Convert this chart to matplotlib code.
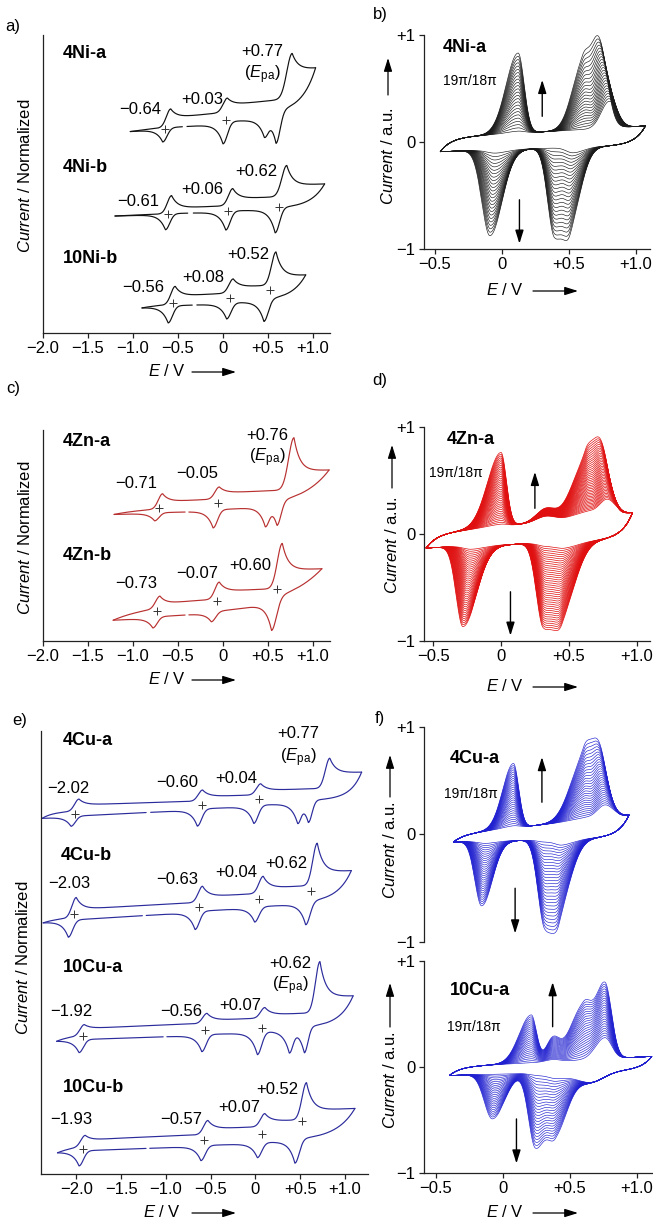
import numpy as np
import matplotlib
matplotlib.use("Agg")
import matplotlib.pyplot as plt
from matplotlib.patches import FancyArrowPatch

plt.rcParams['font.family'] = ['Liberation Sans', 'DejaVu Sans']
plt.rcParams['mathtext.fontset'] = 'custom'
plt.rcParams['mathtext.rm'] = 'Liberation Sans'
plt.rcParams['mathtext.it'] = 'Liberation Sans:italic'
plt.rcParams['mathtext.bf'] = 'Liberation Sans:bold'

# ---------------------------------------------------------------- data
# Single CVs: potential window, gap in return sweep, linear baselines (upper/lower),
# anodic peaks (E, height, tail fraction[, width]), cathodic peaks (E, depth, tail[, width]),
# E1/2 values marked with "+", and the printed numbers.
NI4A_RANGE = (-1.03, 1.03); NI4A_GAP = (-0.45, -0.40)
NI4A_BASE_UP = (202, 221); NI4A_BASE_LO = (210, 222)
NI4A_ANODIC = [(-0.58, 18, 0.5), (0.05, 14, 0.5), (0.77, 45, 0.62, 0.06)]
NI4A_CATHODIC = [(-0.67, 14, 0.1), (0.0, 22, 0.1), (0.46, 17, 0.1, 0.04), (0.59, 32, 0.1, 0.045)]
NI4A_E12 = [-0.64, 0.03]

NI4B_RANGE = (-1.2, 1.13); NI4B_GAP = (-0.39, -0.33)
NI4B_BASE_UP = (117, 126); NI4B_BASE_LO = (120, 126)
NI4B_ANODIC = [(-0.57, 18, 0.3), (0.11, 17, 0.4), (0.71, 31, 0.35, 0.055)]
NI4B_CATHODIC = [(-0.64, 16, 0.05), (0.03, 19, 0.05), (0.58, 25, 0.05)]
NI4B_E12 = [-0.61, 0.06, 0.62]

NI10B_RANGE = (-0.9, 0.92); NI10B_GAP = (-0.34, -0.29)
NI10B_BASE_UP = (27, 36); NI10B_BASE_LO = (28, 34)
NI10B_ANODIC = [(-0.53, 18, 0.45), (0.115, 14, 0.4), (0.59, 33, 0.25, 0.05)]
NI10B_CATHODIC = [(-0.61, 17, 0.05), (0.04, 16, 0.05), (0.455, 22, 0.05)]
NI10B_E12 = [-0.56, 0.08, 0.52]

ZN4A_RANGE = (-1.21, 1.18); ZN4A_GAP = (-0.42, -0.38)
ZN4A_BASE_UP = (131, 140); ZN4A_BASE_LO = (130, 136)
ZN4A_ANODIC = [(-0.67, 15, 0.45), (-0.04, 12, 0.5), (0.79, 52, 0.35, 0.06)]
ZN4A_CATHODIC = [(-0.76, 8, 0.05), (-0.11, 18, 0.05), (0.47, 19, 0.05, 0.04), (0.60, 24, 0.05, 0.045)]
ZN4A_E12 = [-0.71, -0.05]

ZN4B_RANGE = (-1.22, 1.10); ZN4B_GAP = (-0.42, -0.38)
ZN4B_BASE_UP = (35, 43); ZN4B_BASE_LO = (26, 36)
ZN4B_ANODIC = [(-0.70, 12, 0.3), (-0.04, 17, 0.45), (0.66, 45, 0.4, 0.055)]
ZN4B_CATHODIC = [(-0.78, 11, 0.1), (-0.13, 10, 0.1), (0.54, 32, 0.1, 0.055)]
ZN4B_E12 = [-0.73, -0.07, 0.60]

CU4A_RANGE = (-2.38, 1.185); CU4A_GAP = (-1.22, -1.17)
CU4A_BASE_UP = (362, 372); CU4A_BASE_LO = (360, 376)
CU4A_ANODIC = [(-1.97, 12, 0.5), (-0.59, 11, 0.4), (0.06, 11, 0.4), (0.83, 30, 0.5, 0.05)]
CU4A_CATHODIC = [(-2.06, 10, 0.05), (-0.65, 17, 0.05), (-0.02, 18, 0.05), (0.47, 18, 0.05, 0.035), (0.59, 22, 0.05, 0.04)]
CU4A_E12 = [-2.02, -0.60, 0.04]

CU4B_RANGE = (-2.37, 1.07); CU4B_GAP = (-1.26, -1.22)
CU4B_BASE_UP = (255, 272); CU4B_BASE_LO = (255, 274)
CU4B_ANODIC = [(-2.0, 20, 0.4), (-0.59, 16, 0.35), (0.087, 17, 0.3), (0.69, 42, 0.3, 0.05)]
CU4B_CATHODIC = [(-2.09, 17, 0.05), (-0.675, 18, 0.05), (-0.01, 15, 0.05), (0.56, 23, 0.05)]
CU4B_E12 = [-2.03, -0.63, 0.04, 0.62]

CU10A_RANGE = (-2.22, 1.09); CU10A_GAP = (-1.03, -0.99)
CU10A_BASE_UP = (138, 150); CU10A_BASE_LO = (138, 148)
CU10A_ANODIC = [(-1.91, 11, 0.6), (-0.54, 10, 0.3), (0.106, 10.5, 0.3), (0.72, 51, 0.3, 0.05)]
CU10A_CATHODIC = [(-1.97, 13, 0.05), (-0.60, 17, 0.05), (0.02, 23, 0.05), (0.377, 22, 0.05, 0.04), (0.545, 26, 0.05, 0.04)]
CU10A_E12 = [-1.92, -0.56, 0.07]

CU10B_RANGE = (-2.21, 1.11); CU10B_GAP = (-1.22, -1.18)
CU10B_BASE_UP = (28, 40); CU10B_BASE_LO = (25, 36)
CU10B_ANODIC = [(-1.90, 11, 0.5), (-0.53, 14, 0.4), (0.106, 13, 0.4), (0.57, 37, 0.25, 0.05)]
CU10B_CATHODIC = [(-1.97, 15, 0.05), (-0.61, 15, 0.05), (0.02, 15, 0.05), (0.44, 24, 0.05)]
CU10B_E12 = [-1.93, -0.57, 0.07, 0.52]

# Multi-scan CVs: peaks (E_first, E_last, h_first, h_last, sigma_neg, sigma_pos)
B_RANGE = (-0.46, 1.07); B_NSCAN = 25
B_BASE_UP = (0.04, 0.15); B_BASE_LO = (-0.09, -0.03)
B_ANODIC = [(0.12, 0.12, 0.02, 0.75, 0.09, 0.045), (0.62, 0.60, 0.0, 0.58, 0.08, 0.05),
            (0.80, 0.72, 0.25, 0.83, 0.06, 0.06)]
B_CATHODIC = [(-0.05, -0.09, 0.03, 0.80, 0.06, 0.09), (0.39, 0.39, 0.0, 0.80, 0.05, 0.07),
              (0.53, 0.51, 0.05, 0.62, 0.05, 0.08)]

D_RANGE = (-0.55, 0.97); D_NSCAN = 40
D_BASE_UP = (0.0, 0.2); D_BASE_LO = (-0.13, -0.05)
D_ANODIC = [(0.0, 0.0, 0.02, 0.69, 0.10, 0.04), (0.33, 0.33, 0.05, 0.12, 0.07, 0.07),
            (0.63, 0.62, 0.05, 0.50, 0.10, 0.05), (0.78, 0.73, 0.15, 0.68, 0.06, 0.06)]
D_CATHODIC = [(-0.22, -0.28, 0.03, 0.75, 0.05, 0.10), (0.33, 0.31, 0.03, 0.75, 0.05, 0.08),
              (0.47, 0.45, 0.05, 0.60, 0.06, 0.10)]

FU_RANGE = (-0.37, 0.94); FU_NSCAN = 30
FU_BASE_UP = (0.0, 0.18); FU_BASE_LO = (-0.07, -0.03)
FU_ANODIC = [(0.077, 0.077, 0.02, 0.60, 0.08, 0.04), (0.60, 0.60, 0.02, 0.55, 0.10, 0.05),
             (0.76, 0.71, 0.12, 0.68, 0.06, 0.06)]
FU_CATHODIC = [(-0.13, -0.16, 0.02, 0.60, 0.05, 0.08), (0.31, 0.31, 0.02, 0.78, 0.05, 0.07),
               (0.44, 0.42, 0.05, 0.55, 0.05, 0.09)]

FL_RANGE = (-0.40, 1.11); FL_NSCAN = 25
FL_BASE_UP = (0.0, 0.10); FL_BASE_LO = (-0.08, -0.03)
FL_ANODIC = [(0.21, 0.21, 0.0, 0.45, 0.09, 0.04), (0.37, 0.37, 0.02, 0.20, 0.05, 0.05),
             (0.60, 0.60, 0.0, 0.50, 0.10, 0.06), (0.76, 0.76, 0.20, 0.71, 0.07, 0.05)]
FL_CATHODIC = [(-0.05, -0.08, 0.0, 0.42, 0.06, 0.09), (0.26, 0.24, 0.02, 0.68, 0.05, 0.07),
               (0.40, 0.39, 0.05, 0.55, 0.06, 0.09), (0.65, 0.65, 0.10, 0.10, 0.10, 0.10)]

X_TICKS_WIDE = [-2.0, -1.5, -1.0, -0.5, 0.0, 0.5, 1.0]
X_LABELS_WIDE = ['\u22122.0', '\u22121.5', '\u22121.0', '\u22120.5', '0', '+0.5', '+1.0']
X_TICKS_NARROW = [-0.5, 0.0, 0.5, 1.0]
X_LABELS_NARROW = ['\u22120.5', '0', '+0.5', '+1.0']
Y_TICKS = [-1, 0, 1]
Y_LABELS = ['\u22121', '0', '+1']

# ---------------------------------------------------------------- helpers
W, H = 653, 1220
fig = plt.figure(figsize=(W / 100, H / 100), dpi=100)
FS = 12
BFS = 13
PIFS = 10
SPC = '#222222'


def add_ax(l, t, r, b):
    ax = fig.add_axes([l / W, 1 - b / H, (r - l) / W, (b - t) / H])
    for s in ['top', 'right']:
        ax.spines[s].set_visible(False)
    for s in ['left', 'bottom']:
        ax.spines[s].set_color(SPC)
        ax.spines[s].set_linewidth(0.9)
    ax.tick_params(direction='out', length=3.5, width=0.9, labelsize=FS, pad=2.5, colors=SPC,
                   labelcolor='k')
    ax.patch.set_alpha(0)
    return ax


def lin(E, rng, base):
    return base[0] + (base[1] - base[0]) * (E - rng[0]) / (rng[1] - rng[0])


def single_cv(rng, base_up, base_lo, anodic, cathodic, dt=0.15, n=1200, decay=0.065):
    E = np.linspace(rng[0], rng[1], n)
    U0 = lin(E, rng, base_up)
    for p in anodic:
        Ep, h, tail = p[:3]
        w = p[3] if len(p) > 3 else 0.048
        x = E - Ep
        U0 = U0 + h * np.where(x < 0, np.exp(-0.5 * (x / w) ** 2),
                               tail + (1 - tail) * np.exp(-np.clip(x, 0, None) / decay))
    L0 = lin(E, rng, base_lo)
    for p in cathodic:
        Ep, h, tail = p[:3]
        w = p[3] if len(p) > 3 else 0.048
        x = E - Ep
        L0 = L0 - h * np.where(x > 0, np.exp(-0.5 * (x / w) ** 2),
                               tail + (1 - tail) * np.exp(np.clip(x, None, 0) / decay))
    L = L0 + (U0[-1] - L0[-1]) * np.exp(-(E[-1] - E) / dt)
    U = U0 + (L[0] - U0[0]) * np.exp(-(E - E[0]) / dt)
    return E, U, L


def draw_single(ax, rng, gap, base_up, base_lo, anodic, cathodic, e12, color, dt=0.15):
    E, U, L = single_cv(rng, base_up, base_lo, anodic, cathodic, dt)
    Lm = L.copy()
    Lm[(E > gap[0]) & (E < gap[1])] = np.nan
    ax.plot(E, U, color=color, lw=0.85, solid_capstyle='round')
    ax.plot(E, Lm, color=color, lw=0.85, solid_capstyle='round')
    for e in e12:
        y = np.interp(e, E, (U + L) / 2)
        ax.plot([e], [y], marker='+', ms=5.5, mew=0.7, color='#333333', ls='none')


def asym(E, Ep, sn, sp):
    x = E - Ep
    return np.where(x < 0, np.exp(-0.5 * (x / sn) ** 2), np.exp(-0.5 * (x / sp) ** 2))


def draw_multi(ax, rng, nscan, base_up, base_lo, anodic, cathodic, color, lw=0.45, dt=0.08):
    E = np.linspace(rng[0], rng[1], 700)
    for f in np.linspace(0, 1, nscan):
        U0 = lin(E, rng, base_up)
        for (e0, e1, h0, h1, sn, sp) in anodic:
            U0 = U0 + (h0 + (h1 - h0) * f) * asym(E, e0 + (e1 - e0) * f, sn, sp)
        L0 = lin(E, rng, base_lo)
        for (e0, e1, h0, h1, sn, sp) in cathodic:
            L0 = L0 - (h0 + (h1 - h0) * f) * asym(E, e0 + (e1 - e0) * f, sn, sp)
        L = L0 + (U0[-1] - L0[-1]) * np.exp(-(E[-1] - E) / dt)
        U = U0 + (L[0] - U0[0]) * np.exp(-(E - E[0]) / dt)
        ax.plot(np.concatenate([E, E[::-1]]), np.concatenate([U, L[::-1]]),
                color=color, lw=lw)


def fig_text(px, py, s, **kw):
    fig.text(px / W, 1 - py / H, s, **kw)


def fig_arrow(x0, y0, x1, y1):
    fig.add_artist(FancyArrowPatch((x0 / W, 1 - y0 / H), (x1 / W, 1 - y1 / H),
                                   transform=fig.transFigure,
                                   arrowstyle='-|>,head_length=0.8,head_width=0.25',
                                   mutation_scale=10, lw=0.9, color='k',
                                   shrinkA=0, shrinkB=0))


def x_label(cx, py, ax0, ax1):
    fig_text(cx, py, '$E$ / V', ha='center', va='center', fontsize=FS)
    fig_arrow(ax0, py + 1, ax1, py + 1)


def y_label(px, cy, text, arrow=None):
    fig_text(px, cy, text, ha='center', va='center', rotation=90, fontsize=FS)
    if arrow is not None:
        fig_arrow(px, arrow[0], px, arrow[1])


def ax_arrow(ax, E, y0, y1):
    ax.annotate('', xy=(E, y1), xytext=(E, y0),
                arrowprops=dict(arrowstyle='-|>,head_length=0.8,head_width=0.25',
                                mutation_scale=10, lw=1.0, color='k',
                                shrinkA=0, shrinkB=0))


EPA = '($E_{\\mathrm{pa}}$)'
kw = dict(fontsize=FS, ha='center', va='center')
bkw = dict(fontsize=BFS, ha='left', va='center', fontweight='bold')

# ---------------------------------------------------------------- panel a
ax = add_ax(43, 35, 330, 333)
ax.set_xlim(-2.0, 1.19); ax.set_ylim(0, 298)
ax.set_yticks([])
ax.set_xticks(X_TICKS_WIDE, X_LABELS_WIDE)
black = '#111111'
draw_single(ax, NI4A_RANGE, NI4A_GAP, NI4A_BASE_UP, NI4A_BASE_LO, NI4A_ANODIC, NI4A_CATHODIC, NI4A_E12, black)
draw_single(ax, NI4B_RANGE, NI4B_GAP, NI4B_BASE_UP, NI4B_BASE_LO, NI4B_ANODIC, NI4B_CATHODIC, NI4B_E12, black)
draw_single(ax, NI10B_RANGE, NI10B_GAP, NI10B_BASE_UP, NI10B_BASE_LO, NI10B_ANODIC, NI10B_CATHODIC, NI10B_E12, black)
ax.text(-1.78, 280, '4Ni-a', **bkw)
ax.text(-0.92, 223, '\u22120.64', **kw)
ax.text(-0.23, 234, '+0.03', **kw)
ax.text(0.44, 281, '+0.77', **kw)
ax.text(0.44, 258, EPA, **kw)
ax.text(-1.78, 166, '4Ni-b', **bkw)
ax.text(-0.94, 131, '\u22120.61', **kw)
ax.text(-0.23, 144, '+0.06', **kw)
ax.text(0.37, 162, '+0.62', **kw)
ax.text(-1.78, 74, '10Ni-b', **bkw)
ax.text(-0.89, 45, '\u22120.56', **kw)
ax.text(-0.22, 55, '+0.08', **kw)
ax.text(0.28, 78, '+0.52', **kw)
fig_text(13, 26, 'a)', ha='center', va='center', fontsize=FS)
y_label(25, 176, '$Current$ / Normalized')
x_label(167, 371, 192, 236)

# ---------------------------------------------------------------- panel b
ax = add_ax(424, 35, 650, 249)
ax.set_xlim(-0.582, 1.104); ax.set_ylim(-1, 1)
ax.set_xticks(X_TICKS_NARROW, X_LABELS_NARROW)
ax.set_yticks(Y_TICKS, Y_LABELS)
draw_multi(ax, B_RANGE, B_NSCAN, B_BASE_UP, B_BASE_LO, B_ANODIC, B_CATHODIC, '#1a1a1a')
ax.text(-0.44, 0.88, '4Ni-a', fontsize=BFS, fontweight='bold', ha='left', va='center')
ax.text(-0.44, 0.57, '19\u03c0/18\u03c0', fontsize=PIFS, ha='left', va='center')
ax_arrow(ax, 0.30, 0.24, 0.58)
ax_arrow(ax, 0.13, -0.54, -0.95)
fig_text(380, 15, 'b)', ha='center', va='center', fontsize=FS)
y_label(388, 156, '$Current$ / a.u.', arrow=(95, 58))
x_label(505, 290, 533, 578)

# ---------------------------------------------------------------- panel c
ax = add_ax(43, 430, 330, 641)
ax.set_xlim(-2.0, 1.19); ax.set_ylim(0, 211)
ax.set_yticks([])
ax.set_xticks(X_TICKS_WIDE, X_LABELS_WIDE)
red = '#b83030'
draw_single(ax, ZN4A_RANGE, ZN4A_GAP, ZN4A_BASE_UP, ZN4A_BASE_LO, ZN4A_ANODIC, ZN4A_CATHODIC, ZN4A_E12, red, dt=0.3)
draw_single(ax, ZN4B_RANGE, ZN4B_GAP, ZN4B_BASE_UP, ZN4B_BASE_LO, ZN4B_ANODIC, ZN4B_CATHODIC, ZN4B_E12, red, dt=0.4)
ax.text(-1.78, 200, '4Zn-a', **bkw)
ax.text(-0.96, 158, '\u22120.71', **kw)
ax.text(-0.29, 168, '\u22120.05', **kw)
ax.text(0.49, 206, '+0.76', **kw)
ax.text(0.49, 183, EPA, **kw)
ax.text(-1.78, 85, '4Zn-b', **bkw)
ax.text(-0.96, 58, '\u22120.73', **kw)
ax.text(-0.29, 67, '\u22120.07', **kw)
ax.text(0.30, 76, '+0.60', **kw)
fig_text(13, 388, 'c)', ha='center', va='center', fontsize=FS)
y_label(25, 538, '$Current$ / Normalized')
x_label(167, 679, 192, 236)

# ---------------------------------------------------------------- panel d
ax = add_ax(424, 427, 650, 641)
ax.set_xlim(-0.567, 1.098); ax.set_ylim(-1, 1)
ax.set_xticks(X_TICKS_NARROW, X_LABELS_NARROW)
ax.set_yticks(Y_TICKS, Y_LABELS)
draw_multi(ax, D_RANGE, D_NSCAN, D_BASE_UP, D_BASE_LO, D_ANODIC, D_CATHODIC, '#e01010', lw=0.5)
ax.text(-0.40, 0.88, '4Zn-a', fontsize=BFS, fontweight='bold', ha='left', va='center')
ax.text(-0.53, 0.57, '19\u03c0/18\u03c0', fontsize=PIFS, ha='left', va='center')
ax_arrow(ax, 0.25, 0.24, 0.58)
ax_arrow(ax, 0.07, -0.54, -0.95)
fig_text(380, 380, 'd)', ha='center', va='center', fontsize=FS)
y_label(392, 545, '$Current$ / a.u.', arrow=(488, 445))
x_label(505, 686, 533, 578)

# ---------------------------------------------------------------- panel e
ax = add_ax(41, 731, 368, 1174)
ax.set_xlim(-2.394, 1.256); ax.set_ylim(0, 443)
ax.set_yticks([])
ax.set_xticks(X_TICKS_WIDE, X_LABELS_WIDE)
blue = '#2b2b9c'
draw_single(ax, CU4A_RANGE, CU4A_GAP, CU4A_BASE_UP, CU4A_BASE_LO, CU4A_ANODIC, CU4A_CATHODIC, CU4A_E12, blue, dt=0.12)
draw_single(ax, CU4B_RANGE, CU4B_GAP, CU4B_BASE_UP, CU4B_BASE_LO, CU4B_ANODIC, CU4B_CATHODIC, CU4B_E12, blue)
draw_single(ax, CU10A_RANGE, CU10A_GAP, CU10A_BASE_UP, CU10A_BASE_LO, CU10A_ANODIC, CU10A_CATHODIC, CU10A_E12, blue)
draw_single(ax, CU10B_RANGE, CU10B_GAP, CU10B_BASE_UP, CU10B_BASE_LO, CU10B_ANODIC, CU10B_CATHODIC, CU10B_E12, blue, dt=0.2)
ax.text(-2.152, 434, '4Cu-a', **bkw)
ax.text(-2.09, 386, '\u22122.02', **kw)
ax.text(-0.877, 392, '\u22120.60', **kw)
ax.text(-0.218, 396, '+0.04', **kw)
ax.text(0.474, 441, '+0.77', **kw)
ax.text(0.474, 416, EPA, **kw)
ax.text(-2.17, 319, '4Cu-b', **bkw)
ax.text(-2.08, 291, '\u22122.03', **kw)
ax.text(-0.877, 295, '\u22120.63', **kw)
ax.text(-0.21, 302, '+0.04', **kw)
ax.text(0.343, 311, '+0.62', **kw)
ax.text(-2.152, 206, '10Cu-a', **bkw)
ax.text(-2.06, 162, '\u22121.92', **kw)
ax.text(-0.83, 162, '\u22120.56', **kw)
ax.text(-0.17, 168, '+0.07', **kw)
ax.text(0.385, 211, '+0.62', **kw)
ax.text(0.385, 188, EPA, **kw)
ax.text(-2.152, 87, '10Cu-b', **bkw)
ax.text(-2.06, 54, '\u22121.93', **kw)
ax.text(-0.83, 54, '\u22120.57', **kw)
ax.text(-0.18, 66, '+0.07', **kw)
ax.text(0.24, 84, '+0.52', **kw)
fig_text(20, 720, 'e)', ha='center', va='center', fontsize=FS)
y_label(23, 958, '$Current$ / Normalized')
x_label(162, 1212, 192, 236)

# ---------------------------------------------------------------- panel f (upper)
ax = add_ax(424, 727, 653, 942)
ax.spines['bottom'].set_visible(False)
ax.set_xlim(-0.59, 1.119); ax.set_ylim(-1, 1)
ax.set_xticks([])
ax.set_yticks(Y_TICKS, Y_LABELS)
fblue = '#2020d0'
draw_multi(ax, FU_RANGE, FU_NSCAN, FU_BASE_UP, FU_BASE_LO, FU_ANODIC, FU_CATHODIC, fblue)
ax.text(-0.40, 0.71, '4Cu-a', fontsize=BFS, fontweight='bold', ha='left', va='center')
ax.text(-0.44, 0.38, '19\u03c0/18\u03c0', fontsize=PIFS, ha='left', va='center')
ax_arrow(ax, 0.29, 0.30, 0.72)
ax_arrow(ax, 0.09, -0.50, -0.92)
fig_text(380, 718, 'f)', ha='center', va='center', fontsize=FS)
y_label(390, 850, '$Current$ / a.u.', arrow=(797, 755))

# ---------------------------------------------------------------- panel f (lower)
ax = add_ax(424, 961, 653, 1173)
ax.set_xlim(-0.59, 1.119); ax.set_ylim(-1, 1)
ax.set_xticks(X_TICKS_NARROW, X_LABELS_NARROW)
ax.set_yticks(Y_TICKS, Y_LABELS)
draw_multi(ax, FL_RANGE, FL_NSCAN, FL_BASE_UP, FL_BASE_LO, FL_ANODIC, FL_CATHODIC, fblue)
ax.text(-0.40, 0.72, '10Cu-a', fontsize=BFS, fontweight='bold', ha='left', va='center')
ax.text(-0.42, 0.38, '19\u03c0/18\u03c0', fontsize=PIFS, ha='left', va='center')
ax_arrow(ax, 0.37, 0.38, 0.80)
ax_arrow(ax, 0.10, -0.49, -0.91)
y_label(390, 1080, '$Current$ / a.u.', arrow=(1027, 983))
x_label(505, 1212, 533, 578)

fig.savefig('out.png', dpi=100)
